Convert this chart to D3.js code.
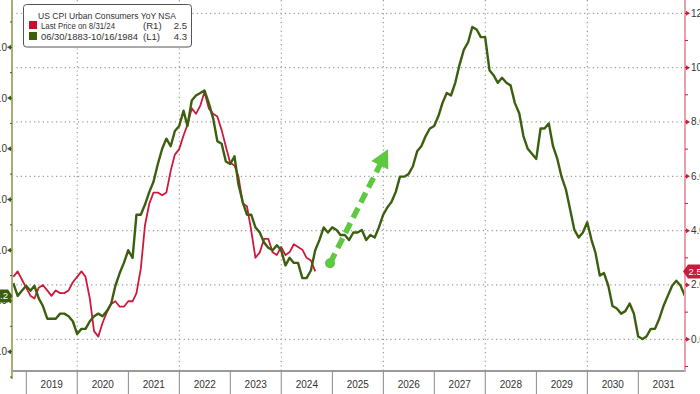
<!DOCTYPE html>
<html><head><meta charset="utf-8">
<script src="https://cdn.jsdelivr.net/npm/d3@7"></script>
<style>body{margin:0;background:#fff;} svg{display:block;font-family:"Liberation Sans",Arial,sans-serif;}</style>
</head><body><svg id="c" width="700" height="394"></svg>
<script>
// ---------- data ----------
const yearLabels = ["2019","2020","2021","2022","2023","2024","2025","2026","2027","2028","2029","2030","2031"];
// US CPI YoY (R1), monthly from Sep 2018
const redStart = [2018, 8];
const redValues = [2.3,2.5,2.2,1.9,
  1.6,1.5,1.9,2.0,1.8,1.6,1.8,1.7,1.7,1.8,2.1,2.3,
  2.5,2.3,1.5,0.3,0.1,0.6,1.0,1.3,1.4,1.2,1.2,1.4,
  1.4,1.7,2.6,4.2,5.0,5.4,5.4,5.3,5.4,6.2,6.8,7.0,
  7.5,7.9,8.5,8.3,8.6,9.1,8.5,8.3,8.2,7.7,7.1,6.5,
  6.4,6.0,5.0,4.9,4.0,3.0,3.2,3.7,3.7,3.2,3.1,3.4,
  3.1,3.2,3.5,3.4,3.3,3.0,2.9,2.5];
// historical CPI YoY (L1), monthly from Mar 1971, shifted forward 570 months
const greenStart = [1971, 2];
const greenShiftMonths = 570;
const greenValues = [4.7,4.2,4.4,4.6,4.4,4.6,4.1,3.8,3.3,3.3,
  3.3,3.5,3.5,3.4,3.2,2.7,2.9,2.9,3.2,3.4,3.5,3.4,
  3.6,3.9,4.6,5.1,5.5,6.0,5.7,7.4,7.4,7.8,8.3,8.7,
  9.4,10.0,10.4,10.1,10.7,10.9,11.5,10.9,11.9,12.1,12.2,12.3,
  11.8,11.2,10.3,10.2,9.5,9.4,9.7,8.6,7.9,7.4,7.4,6.9,
  6.7,6.3,6.1,6.0,6.2,6.0,5.4,5.7,5.5,5.5,4.9,4.9,
  5.2,6.0,6.4,6.9,6.7,6.9,6.8,6.6,6.6,6.4,6.7,6.7,
  6.8,6.4,6.6,6.5,6.9,7.4,7.7,7.9,8.3,8.9,8.9,9.0,
  9.3,9.9,10.1,10.5,10.8,10.9,11.3,11.8,12.2,12.1,12.6,13.3,
  13.9,14.2,14.8,14.7,14.4,14.4,13.1,12.9,12.6,12.8,12.6,12.5,
  11.8,11.4,10.5,10.0,9.8,9.6,10.8,10.8,11.0,10.1,9.6,8.9,
  8.4,7.6,6.8,6.5,6.7,7.1,6.4,5.9,5.0,5.1,4.6,3.8,
  3.7,3.5,3.6,3.9,3.5,2.6,2.5,2.6,2.9,2.9,3.3,3.8,
  4.2,4.6,4.8,4.6,4.2];
const rightTicks = [0,2,4,6,8,10,12];
const rightTickLabels = ["0.0","2.0","4.0","6.0","8.0","10.0","12.0"];
const leftTicks = [2,4,6,8,10,12,14];
const leftTickLabels = ["2.0","4.0","6.0","8.0","10.0","12.0","14.0"];
const legendTitle = "US CPI Urban Consumers YoY NSA";
const legendRows = [
  {name:"Last Price on 8/31/24", axis:"(R1)", value:"2.5", color:"#c8102e"},
  {name:"06/30/1883-10/16/1984", axis:"(L1)", value:"4.3", color:"#3b5e0c"}
];
const arrowFrom = {date:[2024,11,15], v:2.8};
const arrowTo = {date:[2026,1,3], v:7.0};

// ---------- layout ----------
const L = 12, R = 685, T = 0, B = 371;
const RED = "#cc1a3c", GREEN = "#3c5f0f", ARROW = "#5ec840";
const svg = d3.select("#c");
const x = d3.scaleTime().domain([new Date(2019,0,1), new Date(2032,0,1)]).range([26.3, 689.3]);
const yR = d3.scaleLinear().domain([0,12]).range([339.3, 13.3]);
const yL = d3.scaleLinear().domain([2,14]).range([351.7, 47.3]);
const monthEnd = (y, m) => new Date(y, m + 1, 0);

const redData = redValues.map((v,i)=>({d: monthEnd(redStart[0], redStart[1]+i), v}));
const greenData = greenValues.map((v,i)=>({d: monthEnd(greenStart[0], greenStart[1]+i+greenShiftMonths), v}));

svg.append("defs").append("clipPath").attr("id","clip")
  .append("rect").attr("x",L).attr("y",T).attr("width",R-L).attr("height",B-T);

// grid
const grid = svg.append("g").attr("stroke","#9a9a9a").attr("stroke-width",1.2).attr("stroke-dasharray","1.2,3.2");
rightTicks.forEach(t=>{
  grid.append("line").attr("x1",L).attr("x2",R).attr("y1",yR(t)).attr("y2",yR(t));
});
[2020,2022,2024,2026,2028,2030].forEach(yr=>{
  const xx = x(new Date(yr,0,1));
  grid.append("line").attr("x1",xx).attr("x2",xx).attr("y1",T).attr("y2",B);
});

// bottom axis
svg.append("line").attr("x1",L).attr("x2",R).attr("y1",B).attr("y2",B).attr("stroke","#9b9b9b").attr("stroke-width",2);
for (let yr=2019; yr<=2031; yr++){
  const xx = x(new Date(yr,0,1));
  svg.append("line").attr("x1",xx).attr("x2",xx).attr("y1",B).attr("y2",394).attr("stroke","#8a8a8a").attr("stroke-width",1);
}
svg.append("g").selectAll("text").data(yearLabels).join("text")
  .attr("x", d=>x(new Date(+d,6,2))).attr("y",388).attr("text-anchor","middle")
  .attr("font-size",10).attr("fill","#333").text(d=>d);

// lines
const line = (yy)=>d3.line().x(d=>x(d.d)).y(d=>yy(d.v));
const plot = svg.append("g").attr("clip-path","url(#clip)");
plot.append("path").datum(redData).attr("d",line(yR)).attr("fill","none")
  .attr("stroke",RED).attr("stroke-width",1.8).attr("stroke-linejoin","round");
plot.append("path").datum(greenData).attr("d",line(yL)).attr("fill","none")
  .attr("stroke",GREEN).attr("stroke-width",2.4).attr("stroke-linejoin","round");

// arrow annotation
const ax0 = x(new Date(...arrowFrom.date)), ay0 = yR(arrowFrom.v);
const ax1 = x(new Date(...arrowTo.date)), ay1 = yR(arrowTo.v);
const dx = ax1-ax0, dy = ay1-ay0, len = Math.hypot(dx,dy), ux = dx/len, uy = dy/len;
const headL = 18, headW = 9.5;
const bx = ax1 - ux*headL, by = ay1 - uy*headL;
svg.append("line").attr("x1",ax0).attr("y1",ay0).attr("x2",bx+ux*2).attr("y2",by+uy*2)
  .attr("stroke",ARROW).attr("stroke-width",5.5).attr("stroke-dasharray","11,6");
svg.append("circle").attr("cx",ax0).attr("cy",ay0).attr("r",5).attr("fill",ARROW);
svg.append("path").attr("d",`M${ax1},${ay1}L${bx - uy*headW},${by + ux*headW}L${bx + uy*headW},${by - ux*headW}Z`)
  .attr("fill",ARROW);

// left axis
svg.append("line").attr("x1",L).attr("x2",L).attr("y1",0).attr("y2",379).attr("stroke","#a8ae78").attr("stroke-width",2);
leftTicks.forEach((t,i)=>{
  const yy = yL(t);
  svg.append("path").attr("d",`M7,${yy}L11,${yy-2.5}L11,${yy+2.5}Z`).attr("fill",GREEN);
  svg.append("line").attr("x1",10).attr("x2",12).attr("y1",yy).attr("y2",yy).attr("stroke",GREEN).attr("stroke-width",1.2);
  svg.append("text").attr("x",7).attr("y",yy+3.5).attr("text-anchor","end").attr("font-size",10).attr("fill","#333").text(leftTickLabels[i]);
});
[1,3,5,7,9,11,13,15].forEach(t=>{
  const yy = yL(t);
  if (yy < 0 || yy > 379) return;
  svg.append("line").attr("x1",10).attr("x2",12).attr("y1",yy).attr("y2",yy).attr("stroke",GREEN).attr("stroke-width",1);
});
// left last-value label
const gl = greenValues[greenValues.length-1];
const gy = yL(gl);
svg.append("path").attr("d",`M-10,${gy-6.5}H8L12.5,${gy}L8,${gy+6.5}H-10Z`).attr("fill",GREEN);
svg.append("text").attr("x",8).attr("y",gy+3.3).attr("text-anchor","end").attr("font-size",9.5).attr("fill","#fff").text(gl.toFixed(1));

// right axis
svg.append("line").attr("x1",R).attr("x2",R).attr("y1",0).attr("y2",372).attr("stroke","#eaa0aa").attr("stroke-width",2);
rightTicks.forEach((t,i)=>{
  const yy = yR(t);
  svg.append("path").attr("d",`M690,${yy}L686,${yy-2.5}L686,${yy+2.5}Z`).attr("fill",RED);
  svg.append("line").attr("x1",685).attr("x2",687).attr("y1",yy).attr("y2",yy).attr("stroke",RED).attr("stroke-width",1.2);
  svg.append("text").attr("x",691).attr("y",yy+3.5).attr("font-size",10).attr("fill","#333").text(rightTickLabels[i]);
});
[-1,1,3,5,7,9,11].forEach(t=>{
  const yy = yR(t);
  svg.append("line").attr("x1",685).attr("x2",688).attr("y1",yy).attr("y2",yy).attr("stroke",RED).attr("stroke-width",1);
});
const rl = redValues[redValues.length-1];
const ry = yR(rl);
svg.append("path").attr("d",`M683,${ry}L688,${ry-7}H706V${ry+7}H688Z`).attr("fill",RED);
svg.append("text").attr("x",688.5).attr("y",ry+3.5).attr("font-size",9.5).attr("fill","#fff").text(rl.toFixed(1));

// legend
const lg = svg.append("g");
lg.append("rect").attr("x",23.5).attr("y",4.5).attr("width",168).attr("height",42.5).attr("rx",3)
  .attr("fill","#fff").attr("stroke","#555").attr("stroke-width",1);
lg.append("text").attr("x",38).attr("y",19).attr("font-size",9.6).attr("fill","#333")
  .attr("textLength",138).attr("lengthAdjust","spacingAndGlyphs").text(legendTitle);
legendRows.forEach((r,i)=>{
  const by0 = 28.5 + i*11;
  lg.append("rect").attr("x",29).attr("y",by0-7.5).attr("width",8).attr("height",8).attr("fill",r.color);
  lg.append("text").attr("x",41).attr("y",by0).attr("font-size",9.6).attr("fill","#333")
    .attr("textLength", i===0?74:97).attr("lengthAdjust","spacingAndGlyphs").text(r.name);
  lg.append("text").attr("x",143).attr("y",by0).attr("font-size",9.6).attr("fill","#333").text(r.axis);
  lg.append("text").attr("x",187).attr("y",by0).attr("font-size",9.6).attr("fill","#333").attr("text-anchor","end").text(r.value);
});
</script></body></html>
